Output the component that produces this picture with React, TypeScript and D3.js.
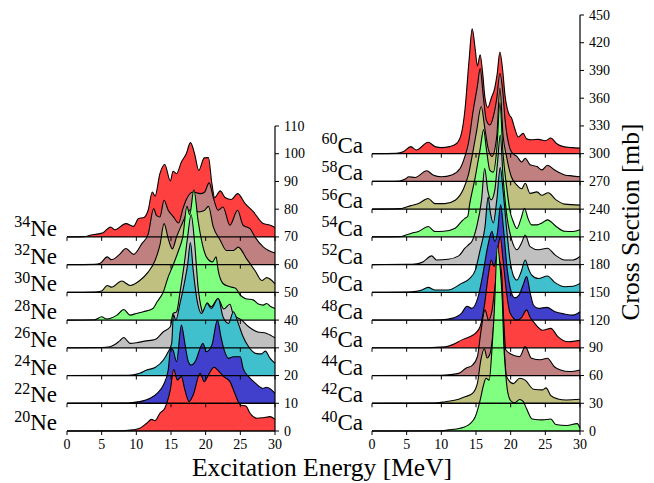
import React from 'react';
import * as d3 from 'd3';

type Pt = [number, number];

// ---- Ne isotopes: [excitation energy (MeV), cross section (mb)] ----
const ne20: Pt[] = [[0,0],[8,0.1],[9.5,0.4],[10.5,1],[11.5,2.8],[12.2,4.2],[12.7,3.7],[13.4,6.4],[14.1,8.2],[14.9,14.8],[15.4,22.2],[15.9,18.4],[16.5,19.6],[17.0,14.8],[17.6,10.6],[18.2,13],[19.2,20.8],[19.8,17.8],[20.4,20.2],[21.2,23],[21.8,21.8],[22.6,19.6],[23.5,17.8],[24.2,13.6],[25.0,9.4],[25.8,9],[26.4,6.4],[27.4,4.6],[28.3,4.8],[29.3,5.2],[30,4.2]];
const ne22: Pt[] = [[0,0],[8,0.1],[9.5,0.3],[10.5,0.6],[12.0,1.8],[13.0,3.6],[13.9,6.6],[14.6,12],[14.95,19.8],[15.3,19.2],[15.8,15],[16.5,28.2],[17.0,21.6],[17.5,15],[17.9,13.8],[18.6,15.6],[19.2,19.8],[19.6,21.6],[20.1,18.6],[20.9,21],[21.7,30],[22.2,24],[22.6,19.8],[23.3,16.2],[24.0,16.8],[25.0,16.8],[25.4,12.6],[26.2,9.6],[27.2,7.2],[28.3,5.4],[28.8,5.8],[30,3.6]];
const ne24: Pt[] = [[0,0],[8,0.1],[9.6,0.3],[10.5,0.8],[11.5,2],[12.7,2.9],[13.9,5.6],[14.6,8.6],[15.1,11.6],[15.35,22],[15.7,20],[16.3,26],[16.9,33],[17.4,40],[17.8,48],[18.2,38],[18.7,28],[19.4,22.4],[20.2,26],[20.8,24.2],[21.8,27.8],[22.5,21.2],[23.3,18.8],[24.0,23],[24.7,18.8],[25.4,14],[26.2,10.4],[27.2,8],[28.0,7.8],[28.6,8.8],[29.3,6.2],[30,4.4]];
const ne26: Pt[] = [[0,0],[5,0.1],[6.2,0.4],[6.9,1.2],[7.6,2.5],[8.2,3.7],[8.7,2.5],[9.1,1.6],[10,1.8],[11.2,2.4],[12.7,3],[13.9,5.8],[14.9,7.6],[15.3,12.4],[15.8,13],[16.3,20],[16.9,30],[17.4,40],[17.9,48],[18.4,38],[18.9,22],[19.4,14],[19.7,12],[20.2,16.2],[20.8,14.8],[21.8,17.8],[22.6,14],[23.5,15.7],[24.0,12],[25.2,10],[26.2,7.6],[27.4,5.8],[28.8,5.2],[30,3.6]];
const ne28: Pt[] = [[0,0],[4,0.1],[5.0,1.2],[5.7,0.4],[7.2,1.8],[8.2,3.8],[9.1,1.8],[10,2.4],[11,3],[12.4,4.2],[13.0,6.6],[13.9,10.2],[14.6,15.6],[15.3,19.8],[16.1,25.2],[16.7,30],[17.3,41],[17.7,38],[18.3,47],[18.9,36],[19.4,28.8],[20.1,22.8],[21.0,21],[21.5,22.8],[21.8,18],[22.5,13.2],[23.5,12],[24.3,11.5],[25.0,9],[25.7,7.8],[26.9,7.2],[27.6,5.8],[28.3,5.4],[28.8,6],[29.3,5],[30,4.2]];
const ne30: Pt[] = [[0,0],[4,0.1],[5,0.5],[5.8,2.5],[6.4,1.9],[7.9,4.1],[9.1,2.5],[10.5,4.3],[11.7,7.3],[12.7,11.5],[13.4,17],[14.0,24.8],[14.6,19.4],[15.2,15.7],[15.8,20],[16.5,24.2],[17.2,28],[18.0,30],[19.0,29],[19.8,29.5],[20.4,31],[21.1,23.6],[22.1,18.8],[23.0,15.1],[24.0,15.1],[24.7,16.3],[25.9,12.1],[27.1,7.9],[28.1,4.3],[28.8,5.3],[30,3.1]];
const ne32: Pt[] = [[0,0],[4,0.1],[4.8,0.5],[5.8,2.8],[6.4,1.8],[7.5,3.5],[8.5,5.8],[9.6,3.7],[10.8,7.6],[11.7,10.9],[12.5,20.2],[12.9,17.8],[13.4,17.2],[14.0,23.2],[14.6,19.6],[15.3,17.4],[16.1,15],[16.7,20],[17.2,23.4],[18.2,26.2],[19.2,25.6],[19.8,26],[20.5,29.5],[21.1,24.2],[21.8,19.6],[22.5,20.8],[23.5,14.2],[24.6,19.6],[25.4,14.2],[26.4,13],[27.1,10],[28.3,6.4],[30,4.2]];
const ne34: Pt[] = [[0,0],[2.5,0.1],[3.5,0.7],[4.3,1],[5.2,1.5],[6.3,3.6],[6.9,2.6],[8.5,4.8],[9.6,3.8],[10.3,6.6],[11.1,7],[11.7,9.6],[12.3,16.2],[12.7,14.7],[13.4,22.8],[14.1,26.1],[14.9,20.2],[15.3,23.7],[15.8,22.8],[16.5,27],[17.2,30],[17.8,34],[18.4,30],[19.0,24],[19.8,28.5],[20.4,28.6],[20.9,19.2],[21.3,14.2],[22.1,16.6],[22.8,14.2],[23.7,13.5],[24.6,15.6],[25.7,12],[26.9,9],[28.3,4.8],[29.3,4.2],[30,3.4]];

// ---- Ca isotopes ----
const ca40: Pt[] = [[0,0],[10,0.3],[11,1.2],[12.7,2.9],[14.2,8.3],[14.9,15.5],[15.6,33.5],[16.1,50],[16.45,57],[16.9,55],[17.3,88],[17.6,124],[18.1,200],[18.5,175],[18.8,140],[19.0,95],[19.2,70],[19.6,41],[20.1,32],[20.6,30.5],[21.3,34],[21.8,32],[22.3,24],[23.1,13],[24.6,12],[25.8,13],[26.5,7],[28.1,6],[29.6,8],[30,3]];
const ca42: Pt[] = [[0,0],[9,0.2],[10.6,1.7],[12.5,4.3],[13.5,7.2],[14.5,10.8],[15.2,21.6],[15.7,47],[16.2,59],[16.6,49],[17.0,53],[17.5,80],[17.9,120],[18.3,150],[18.7,120],[19.1,55],[19.4,29],[20.4,21.3],[21.3,27],[22.1,25],[23.3,15.2],[24.6,14.5],[25.1,16.6],[25.8,8.3],[26.8,4.7],[28,3.6],[30,4.3]];
const ca44: Pt[] = [[0,0],[9,0.2],[10.6,0.5],[12.5,2.3],[13.5,7.7],[14.5,11.3],[15.2,20.3],[15.7,47],[16.3,71],[16.8,60],[17.3,70],[17.8,100],[18.3,125],[18.7,110],[19.0,60],[19.3,27.6],[20.4,22],[21.3,20.5],[22.1,31.3],[23.0,18.7],[24.3,17],[25.3,18.7],[26.3,9.5],[27.2,6],[28.5,4.3],[30,6]];
const ca46: Pt[] = [[0,0],[8,0.1],[10.5,1],[12,4.7],[12.9,8.3],[14.1,12],[14.9,15.5],[15.6,23],[16.2,45],[16.8,80],[17.2,95],[17.6,88],[18.1,105],[18.5,120],[18.9,95],[19.4,60],[19.9,38],[20.9,30],[21.6,33],[22.3,41],[22.8,33],[23.3,28],[24.6,19],[25.8,21],[26.8,12],[28.3,6.5],[30,8]];
const ca48: Pt[] = [[0,0],[8,0.1],[10,0.3],[11.5,1.8],[12.9,7.2],[13.7,15],[14.4,12.6],[15.3,25],[16.0,50],[16.7,80],[17.3,96],[17.7,85],[18.1,95],[18.55,125],[18.95,100],[19.5,55],[20.1,30],[20.6,24],[21.2,27],[21.8,38],[22.3,47],[22.8,30],[23.3,16],[24.0,12.6],[25.2,13.7],[26.4,9],[27.8,6.5],[29,5.4],[30,9]];
const ca50: Pt[] = [[0,0],[5,0.2],[6.4,1],[7.2,2.5],[8.1,5.4],[9.1,2.5],[11,2.5],[12.9,9.7],[14.1,15],[14.9,24],[15.6,46],[16.3,71],[16.75,103],[17.1,85],[17.5,75],[18.0,100],[18.5,135],[18.9,110],[19.4,70],[19.9,35],[20.4,18],[20.9,13.3],[21.5,22],[22.1,35],[22.6,25],[23.0,19],[24.0,15],[25.3,17.7],[26.4,10.5],[27.8,6],[29,6.5],[30,9.7]];
const ca52: Pt[] = [[0,0],[5,0.3],[6.5,1],[7.4,3.2],[8.6,9.4],[9.3,5],[11.0,5.8],[12.5,9.4],[13.4,17.7],[14.0,22],[14.4,25],[15.1,41],[15.8,70],[16.25,104],[16.7,80],[17.2,70],[17.7,80],[18.1,110],[18.5,140],[18.9,95],[19.5,50],[20.1,28],[20.9,16],[21.6,24],[22.1,32],[22.8,19.5],[24.0,16],[25.3,17.7],[26.4,10.5],[27.8,5],[29,5],[30,8.7]];
const ca54: Pt[] = [[0,0],[4,0.3],[4.8,1.8],[5.7,4],[6.7,5.8],[8.1,11.2],[9.1,5.8],[10.3,6],[12.0,9.4],[12.9,16.6],[13.4,20],[13.8,22],[14.1,36],[14.9,65],[15.6,95],[16.1,116],[16.5,95],[17.0,72],[17.5,70],[18.0,95],[18.45,145],[18.9,90],[19.4,55],[19.9,28],[20.3,18],[20.9,9],[21.5,20],[22.0,31],[22.5,20],[23.0,13],[23.8,13],[24.5,15],[25.3,18.4],[26.6,11],[27.8,6],[29.0,5.8],[30,7.6]];
const ca56: Pt[] = [[0,0],[4,0.5],[4.8,1.8],[5.5,3.5],[6.7,6],[8.1,11.5],[9.1,6],[10.5,6],[12.0,9.7],[13.2,22],[13.9,37],[14.6,64],[15.1,85],[15.75,111],[16.3,86],[16.8,64],[17.3,57],[18.0,79],[18.45,131],[18.9,80],[19.4,57],[20.1,35],[20.9,26],[21.6,22],[22.1,28],[22.8,17],[23.8,18.7],[24.5,15],[25.4,17.7],[26.6,9.7],[27.8,5.4],[30,4.3]];
const ca58: Pt[] = [[0,0],[4,0.5],[4.8,2.5],[5.3,5],[6.2,4.3],[7.9,11.5],[8.8,7],[10,5],[11.5,7],[12.7,14],[13.4,27],[13.9,41],[14.6,77],[15.2,103],[15.6,122],[16.05,92],[16.5,66],[17.0,61],[17.5,70],[18.0,90],[18.45,117],[18.85,98],[19.2,66],[19.7,41],[20.1,32],[20.9,27],[21.6,21],[22.1,25],[22.8,18],[23.8,16],[24.5,12.5],[25.3,17.5],[26.4,12],[27.8,7],[28.8,6],[30,5]];
const ca60: Pt[] = [[0,0],[3.5,0.3],[4.5,2],[5.6,7.6],[6.4,4],[8.1,12.3],[9.1,7.6],[10,6.5],[11.2,7.6],[12.2,11],[12.9,22],[13.4,47],[14.0,101],[14.45,135],[14.9,112],[15.2,95],[15.6,107],[15.95,88],[16.3,60],[16.7,50],[17.2,60],[17.7,71],[18.05,86],[18.45,110],[18.85,90],[19.2,62],[19.5,49],[19.8,42],[20.1,39],[20.6,27],[21.1,18],[21.8,22],[22.3,16],[23.0,15],[24.0,15.5],[25.0,14],[25.8,17],[26.6,11],[27.6,7.6],[28.8,6.5],[30,6]];

const neMasses = [20, 22, 24, 26, 28, 30, 32, 34];
const neOffsets = [0, 10, 20, 30, 40, 50, 60, 70];
const neData = [ne20, ne22, ne24, ne26, ne28, ne30, ne32, ne34];

const caMasses = [40, 42, 44, 46, 48, 50, 52, 54, 56, 58, 60];
const caOffsets = [0, 30, 60, 90, 120, 150, 180, 210, 240, 270, 300];
const caData = [ca40, ca42, ca44, ca46, ca48, ca50, ca52, ca54, ca56, ca58, ca60];

const energyTicks = [0, 5, 10, 15, 20, 25, 30];
const neYTicks = [0, 10, 20, 30, 40, 50, 60, 70, 80, 90, 100, 110];
const caYTicks = [0, 30, 60, 90, 120, 150, 180, 210, 240, 270, 300, 330, 360, 390, 420, 450];

// colours
const RED = '#ff4040', BLUE = '#4040cc', CYAN = '#40c0cc', GRAY = '#c0c0c0';
const GREEN = '#80ff80', OLIVE = '#c0c080', BROWN = '#c08080';
const neColors = [RED, BLUE, CYAN, GRAY, GREEN, OLIVE, BROWN, RED];
const caColors = [GREEN, OLIVE, BROWN, RED, BLUE, CYAN, GRAY, GREEN, OLIVE, BROWN, RED];

const FONT = '"Liberation Serif", "Times New Roman", serif';

function Panel({ x, y, data, offsets, masses, colors, element, yTicks, labelRight }: any) {
  const order = d3.range(data.length).reverse(); // top rows behind, bottom rows in front
  const [x0, x1] = x.range();
  return (
    <g>
      {order.map((i: number) => {
        const off = offsets[i];
        const area = d3.area<Pt>()
          .x(d => x(d[0]))
          .y0(y(off))
          .y1(d => y(off + d[1]))
          .curve(d3.curveMonotoneX);
        const line = d3.line<Pt>()
          .x(d => x(d[0]))
          .y(d => y(off + d[1]))
          .curve(d3.curveMonotoneX);
        return (
          <g key={i}>
            <path d={area(data[i]) || ''} fill={colors[i]} stroke="none" />
            <path d={line(data[i]) || ''} fill="none" stroke="#000" strokeWidth={1.1} />
          </g>
        );
      })}
      {/* baselines with ticks */}
      {offsets.map((off: number, i: number) => (
        <g key={'ax' + i}>
          <line x1={x0} x2={x1} y1={y(off)} y2={y(off)} stroke="#000" strokeWidth={1.3} />
          {energyTicks.map(t => (
            <line key={t} x1={x(t)} x2={x(t)} y1={y(off)} y2={y(off) + 4} stroke="#000" strokeWidth={1} />
          ))}
        </g>
      ))}
      {energyTicks.map(t => (
        <text key={'el' + t} x={x(t)} y={449} textAnchor="middle" fontSize={14} fontFamily={FONT}>{t}</text>
      ))}
      {/* right axis */}
      <line x1={x1} x2={x1} y1={y(0)} y2={y(yTicks[yTicks.length - 1])} stroke="#000" strokeWidth={1.2} />
      {yTicks.map((t: number) => (
        <g key={'yt' + t}>
          <line x1={x1} x2={x1 + 4} y1={y(t)} y2={y(t)} stroke="#000" strokeWidth={1} />
          <text x={x1 + 9} y={y(t)} dominantBaseline="central" fontSize={14} fontFamily={FONT}>{t}</text>
        </g>
      ))}
      {/* isotope labels */}
      {offsets.map((off: number, i: number) => (
        <text key={'lb' + i} x={labelRight} y={y(off) - 1} textAnchor="end" fontFamily={FONT}>
          <tspan fontSize={16} dy={-8.5}>{masses[i]}</tspan>
          <tspan fontSize={23} dy={8.5}>{element}</tspan>
        </text>
      ))}
    </g>
  );
}

export default function App() {
  const W = 654, H = 483;
  const xNe = d3.scaleLinear().domain([0, 30]).range([67, 275]);
  const yNe = d3.scaleLinear().domain([0, 110]).range([431, 126]);
  const xCa = d3.scaleLinear().domain([0, 30]).range([372, 580]);
  const yCa = d3.scaleLinear().domain([0, 450]).range([431, 15]);
  return (
    <svg width={W} height={H} style={{ position: 'absolute', left: 0, top: 0, background: '#fff' }}>
      <Panel x={xNe} y={yNe} data={neData} offsets={neOffsets} masses={neMasses}
        colors={neColors} element="Ne" yTicks={neYTicks} labelRight={57} />
      <Panel x={xCa} y={yCa} data={caData} offsets={caOffsets} masses={caMasses}
        colors={caColors} element="Ca" yTicks={caYTicks} labelRight={363} />
      <text x={322} y={476} textAnchor="middle" fontSize={25.5} fontFamily={FONT}>Excitation Energy [MeV]</text>
      <text transform="translate(639,222) rotate(-90)" textAnchor="middle" fontSize={25.5} fontFamily={FONT}>Cross Section [mb]</text>
    </svg>
  );
}
